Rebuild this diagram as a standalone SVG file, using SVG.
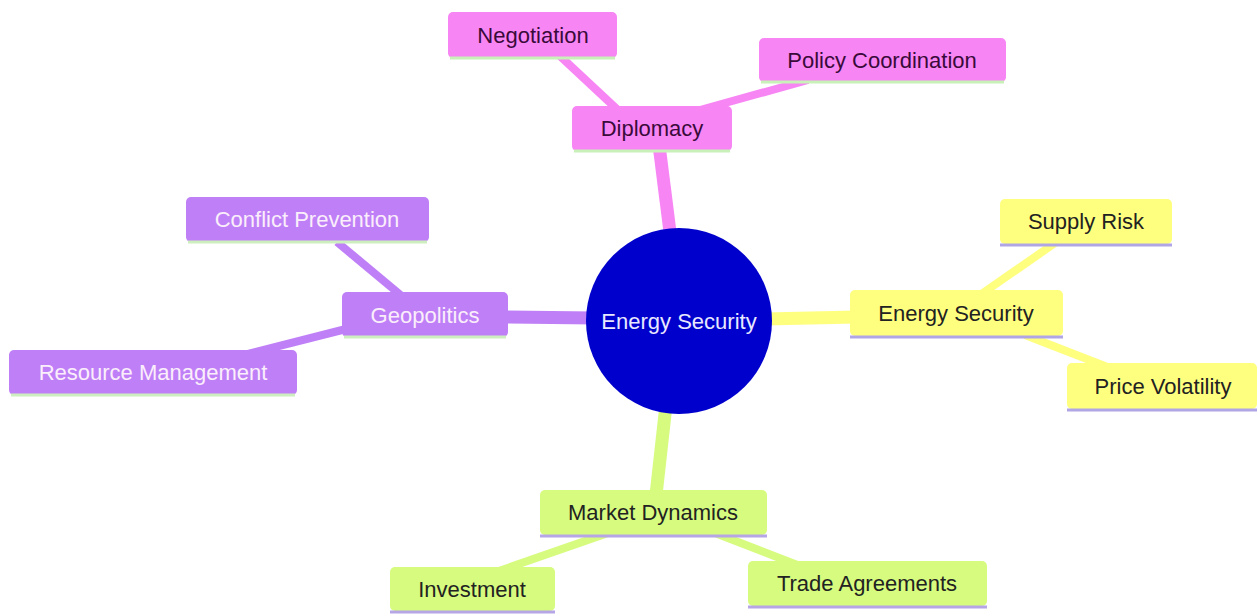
<svg xmlns="http://www.w3.org/2000/svg" width="1258" height="616" viewBox="0 0 1258 616">
<style>
text{font-family:"Liberation Sans",Arial,sans-serif;font-size:22px;text-anchor:middle;dominant-baseline:central}
.pk rect.b{fill:#f786f4}.pk text{fill:#3a0a3a}.pk line{stroke:#c8f0b8}
.pu rect.b{fill:#bf80f7}.pu text{fill:#fbeefb}.pu line{stroke:#cdeebf}
.ye rect.b{fill:#ffff7f}.ye text{fill:#222}.ye line{stroke:#b0a6e6}
.gr rect.b{fill:#d6fb7f}.gr text{fill:#222}.gr line{stroke:#b6a6e6}
.node line{stroke-width:3}
#edges line{stroke-linecap:butt}
.epk{stroke:#f786f4}.epu{stroke:#bf80f7}.eye{stroke:#ffff7f}.egr{stroke:#d6fb7f}
</style>
<rect width="1258" height="616" fill="#fff"/>
<g id="edges">
<line class="epk" x1="671" y1="240" x2="659" y2="145" stroke-width="13"/>
<line class="epk" x1="620" y1="112" x2="560" y2="56" stroke-width="8"/>
<line class="epk" x1="700" y1="110" x2="808" y2="80" stroke-width="8"/>
<line class="epu" x1="595" y1="318" x2="500" y2="317" stroke-width="13"/>
<line class="epu" x1="403" y1="297" x2="337" y2="242" stroke-width="8"/>
<line class="epu" x1="350" y1="328" x2="248" y2="354" stroke-width="8"/>
<line class="eye" x1="765" y1="319" x2="856" y2="317" stroke-width="13"/>
<line class="eye" x1="980" y1="295" x2="1055" y2="243" stroke-width="8"/>
<line class="eye" x1="1025" y1="335" x2="1110" y2="368" stroke-width="8"/>
<line class="egr" x1="666" y1="405" x2="656" y2="495" stroke-width="13"/>
<line class="egr" x1="608" y1="533" x2="496" y2="572" stroke-width="8"/>
<line class="egr" x1="715" y1="533" x2="800" y2="566" stroke-width="8"/>
</g>
<g id="root">
<circle cx="679" cy="321" r="93" fill="#0000cd"/>
<text x="679" y="321" fill="#e8e8ff">Energy Security</text>
</g>
<g id="diplomacy" class="node pk"><rect class="b" x="572" y="106" width="160" height="45" rx="5"/><line x1="574" y1="151" x2="730" y2="151"/><text x="652" y="128">Diplomacy</text></g>
<g id="negotiation" class="node pk"><rect class="b" x="448" y="12" width="169" height="46" rx="5"/><line x1="450" y1="58" x2="615" y2="58"/><text x="533" y="35">Negotiation</text></g>
<g id="policy" class="node pk"><rect class="b" x="759" y="38" width="247" height="44" rx="5"/><line x1="761" y1="82" x2="1004" y2="82"/><text x="882" y="60">Policy Coordination</text></g>
<g id="geopolitics" class="node pu"><rect class="b" x="342" y="292" width="166" height="45" rx="5"/><line x1="344" y1="337" x2="506" y2="337"/><text x="425" y="315">Geopolitics</text></g>
<g id="conflict" class="node pu"><rect class="b" x="186" y="197" width="243" height="45" rx="5"/><line x1="188" y1="242" x2="427" y2="242"/><text x="307" y="219">Conflict Prevention</text></g>
<g id="resource" class="node pu"><rect class="b" x="9" y="350" width="288" height="45" rx="5"/><line x1="11" y1="395" x2="295" y2="395"/><text x="153" y="372">Resource Management</text></g>
<g id="energy" class="node ye"><rect class="b" x="850" y="290" width="213" height="46" rx="5"/><line x1="850" y1="337" x2="1063" y2="337"/><text x="956" y="313">Energy Security</text></g>
<g id="supply" class="node ye"><rect class="b" x="1000" y="199" width="172" height="45" rx="5"/><line x1="1000" y1="245" x2="1172" y2="245"/><text x="1086" y="221">Supply Risk</text></g>
<g id="price" class="node ye"><rect class="b" x="1067" y="363" width="190" height="46" rx="5"/><line x1="1067" y1="410" x2="1257" y2="410"/><text x="1163" y="386">Price Volatility</text></g>
<g id="market" class="node gr"><rect class="b" x="540" y="490" width="227" height="45" rx="5"/><line x1="540" y1="536" x2="767" y2="536"/><text x="653" y="512">Market Dynamics</text></g>
<g id="investment" class="node gr"><rect class="b" x="390" y="567" width="165" height="44" rx="5"/><line x1="390" y1="612" x2="555" y2="612"/><text x="472" y="589">Investment</text></g>
<g id="trade" class="node gr"><rect class="b" x="748" y="561" width="239" height="45" rx="5"/><line x1="748" y1="607" x2="987" y2="607"/><text x="867" y="583">Trade Agreements</text></g>
</svg>
